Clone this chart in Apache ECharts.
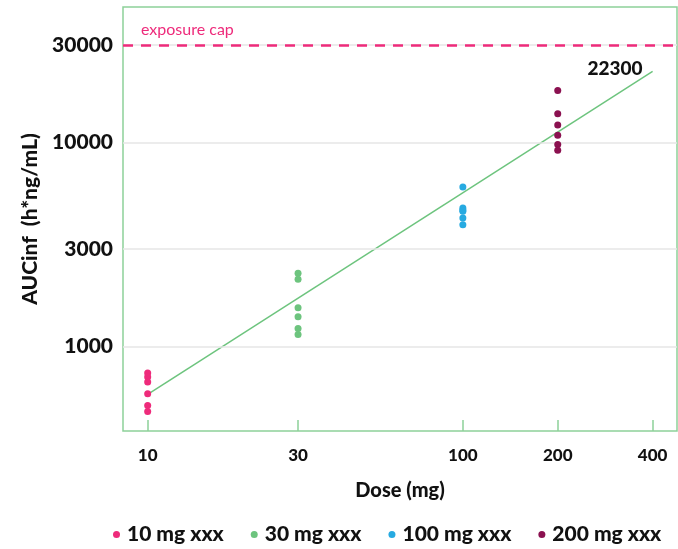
<!DOCTYPE html>
<html>
<head>
<meta charset="utf-8">
<script src="https://cdn.jsdelivr.net/npm/echarts@6/dist/echarts.min.js"></script>
<style>
html,body{margin:0;padding:0;background:#fff;}
#chart{width:678px;height:549px;}
</style>
</head>
<body>
<div id="chart"></div>
<script>
// ---- data ----
var seriesNames = ['10 mg xxx', '30 mg xxx', '100 mg xxx', '200 mg xxx'];
var doses = [10, 30, 100, 200];
var auc10 = [739, 706, 667, 585, 512, 478];
var auc30 = [2280, 2132, 1544, 1394, 1222, 1143];
var auc100 = [6050, 4770, 4660, 4590, 4260, 3945];
var auc200 = [17970, 13840, 12170, 10830, 9775, 9140];
var fitDoses = [10, 400];
var fitAuc = [580, 22300];
var xTicks = [10, 30, 100, 200, 400];
var yTicks = [1000, 3000, 10000, 30000];
var exposureCap = 30000;
var capLabel = 'exposure cap';

var colors = ['#EE2B7B', '#6DC47E', '#27AAE1', '#8B1150'];
var font = 'Lato, "Open Sans", sans-serif';
var heavy = 900;

function pts(d, arr) { return arr.map(function (v) { return [d, v]; }); }
var groups = [auc10, auc30, auc100, auc200];

var series = groups.map(function (arr, i) {
  return {
    name: seriesNames[i],
    type: 'scatter',
    symbol: 'circle',
    symbolSize: 7,
    itemStyle: { color: colors[i], opacity: 1 },
    data: pts(doses[i], arr),
    z: 5
  };
});

series.push({
  name: 'fit',
  type: 'line',
  data: fitDoses.map(function (d, i) { return [d, fitAuc[i]]; }),
  symbol: 'circle',
  symbolSize: 0.1,
  showSymbol: true,
  lineStyle: { color: '#6DC47E', width: 1.5 },
  itemStyle: { color: '#6DC47E' },
  label: {
    show: true,
    formatter: function (p) { return p.dataIndex === 1 ? String(p.value[1]) : ''; },
    position: 'left',
    distance: 10,
    offset: [0, -3],
    color: '#111',
    fontFamily: font,
    fontWeight: heavy,
    fontSize: 19
  },
  z: 4,
  silent: true
});

series.push({
  name: 'grid',
  type: 'line',
  data: [],
  silent: true,
  markLine: {
    silent: true,
    symbol: 'none',
    label: { show: false },
    lineStyle: { color: '#e6e6e6', width: 1.5, type: 'solid' },
    data: yTicks.map(function (v) { return { yAxis: v }; })
  },
  z: 1
});

series.push({
  name: 'cap',
  type: 'line',
  data: [],
  silent: true,
  markLine: {
    silent: true,
    symbol: 'none',
    lineStyle: { color: '#EE2B7B', width: 2.5, type: [10, 8] },
    label: {
      show: true,
      position: 'insideStartTop',
      formatter: capLabel,
      color: '#EE2B7B',
      fontFamily: font,
      fontSize: 16,
      distance: [18, 7]
    },
    data: [{ yAxis: exposureCap }]
  },
  z: 3
});

function plain(v) { return String(Math.round(v)); }

var chart = echarts.init(document.getElementById('chart'), null, { renderer: 'canvas' });
chart.setOption({
  animation: false,
  backgroundColor: '#fff',
  textStyle: { fontFamily: font },
  grid: {
    left: 123, right: 1, top: 7, bottom: 118,
    show: true, borderColor: '#8DD199', borderWidth: 1.5, backgroundColor: 'transparent'
  },
  legend: {
    data: seriesNames,
    left: 108,
    top: 519,
    icon: 'circle',
    itemWidth: 7,
    itemHeight: 7,
    itemGap: 27,
    textStyle: { fontFamily: font, fontWeight: heavy, fontSize: 21, color: '#111', padding: [0, 0, 0, 2] }
  },
  xAxis: {
    type: 'log',
    logBase: 10,
    min: 8.35,
    max: 478,
    name: 'Dose (mg)',
    nameLocation: 'middle',
    nameGap: 50,
    nameTextStyle: { fontFamily: font, fontWeight: heavy, fontSize: 20, color: '#111' },
    axisLine: { show: false },
    axisTick: { show: true, inside: true, length: 11, customValues: xTicks, lineStyle: { color: '#8DD199', width: 1.5 } },
    axisLabel: { customValues: xTicks, formatter: plain, margin: 16, fontFamily: font, fontWeight: heavy, fontSize: 17, color: '#111' },
    splitLine: { show: false },
    minorTick: { show: false }
  },
  yAxis: {
    type: 'log',
    logBase: 10,
    min: 384,
    max: 46150,
    name: 'AUCinf  (h*ng/mL)',
    nameLocation: 'middle',
    nameGap: 73,
    nameTextStyle: { fontFamily: font, fontWeight: heavy, fontSize: 21, color: '#111' },
    axisLine: { show: false },
    axisTick: { show: false, customValues: yTicks },
    axisLabel: { customValues: yTicks, formatter: plain, margin: 10, fontFamily: font, fontWeight: heavy, fontSize: 21, color: '#111' },
    splitLine: { show: false },
    minorTick: { show: false }
  },
  series: series
});
</script>
</body>
</html>
